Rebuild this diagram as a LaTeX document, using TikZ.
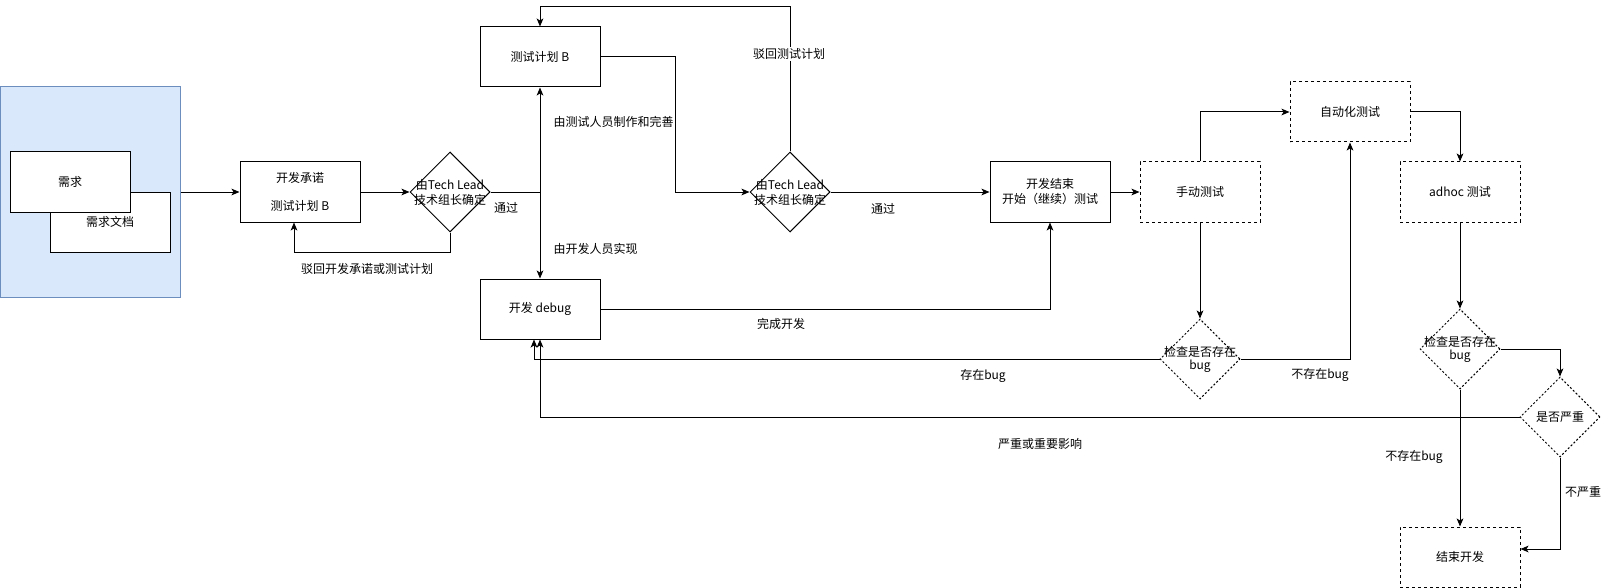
\documentclass[tikz,border=0pt]{standalone}
\usepackage{fontspec}
\setmainfont{Noto Sans CJK SC}
\usetikzlibrary{arrows.meta,shapes.geometric}

\definecolor{reqfill}{RGB}{218,232,252}
\definecolor{reqline}{RGB}{108,142,191}

\tikzset{every picture/.style={line width=0.75pt}}
\tikzset{
  txt/.style={inner sep=0.75pt,font=\fontsize{9}{11.25}\selectfont,align=center},
  procbox/.style={draw,fill=white,minimum width=90pt,minimum height=45pt,inner sep=0pt,txt},
  dashbox/.style={procbox,dash pattern=on 2.25pt off 2.25pt},
  decision/.style={draw,fill=white,diamond,aspect=1,minimum width=60pt,minimum height=60pt,inner sep=0pt},
  dashdecision/.style={decision,dash pattern=on 1.5pt off 1.5pt},
  flow/.style={-{Stealth[length=6pt,width=5pt,inset=1.5pt]}},
  edgelabel/.style={txt,fill=white}
}

\begin{document}
\begin{tikzpicture}[x=0.75pt,y=0.75pt,yscale=-1,xscale=1]
\useasboundingbox (0,0) rectangle (1616,588);

%Shape: Rectangle [requirements group]
\node [draw=reqline,fill=reqfill,minimum width=135pt,minimum height=157.5pt,inner sep=0pt] (reqgroup) at (90,192) {};
\node [procbox] (reqdoc) at (110,222) {需求文档};
\node [procbox] (req) at (70,182) {需求};

%Shapes: Rectangles
\node [procbox] (commit) at (300,192) {开发承诺\\[9.75pt]测试计划 B};
\node [procbox] (plan) at (540,57) {测试计划 B};
\node [procbox] (dev) at (540,309) {开发 debug};
\node [procbox] (devend) at (1050,192) {开发结束\\开始（继续）测试};
\node [dashbox] (manual) at (1200,192) {手动测试};
\node [dashbox] (auto) at (1350,112) {自动化测试};
\node [dashbox] (adhoc) at (1460,192) {adhoc 测试};
\node [dashbox] (finish) at (1460,557) {结束开发};

%Shapes: Diamonds
\node [decision,label={[txt]center:由Tech Lead\\技术组长确定}] (review1) at (450,192) {};
\node [decision,label={[txt]center:由Tech Lead\\技术组长确定}] (review2) at (790,192) {};
\node [dashdecision,label={[txt]center:检查是否存在\\[-1.5pt]bug}] (check1) at (1200,359) {};
\node [dashdecision,label={[txt]center:检查是否存在\\[-1.5pt]bug}] (check2) at (1460,349) {};
\node [dashdecision,label={[txt]center:是否严重}] (severe) at (1560,417) {};

\coordinate (split) at (540,192);

%Connectors
\draw [flow] (reqgroup.east) -- (commit.west);
\draw [flow] (commit.east) -- (review1.west);
\draw [flow] (review1.south) -- ++(0,20) -| ([xshift=-4.5pt]commit.south);
\draw (review1.east) -- (split);
\draw [flow] (split) -- (plan.south);
\draw [flow] (split) -- (dev.north);
\draw [flow] (plan.east) -- ++(75,0) |- (review2.west);
\draw [flow] (review2.north) -- ++(0,-145) -| (plan.north);
\draw [flow] (review2.east) -- (devend.west);
\draw [flow] (dev.east) -| (devend.south);
\draw [flow] (devend.east) -- (manual.west);
\draw [flow] (manual.north) |- (auto.west);
\draw [flow] (manual.south) -- (check1.north);
\draw [flow] (check1.west) -| ([xshift=-4.5pt]dev.south);
\draw [flow] (check1.east) -| (auto.south);
\draw [flow] (auto.east) -| (adhoc.north);
\draw [flow] (adhoc.south) -- (check2.north);
\draw [flow] (check2.east) -| (severe.north);
\draw [flow] (severe.west) -| (dev.south);
\draw [flow] (check2.south) -- (finish.north);
\draw [flow] (severe.south) |- ([yshift=-6pt]finish.east);

% Text Nodes
\node [txt] (lblreject1) at (367,269) {驳回开发承诺或测试计划};
\node [txt] (lblpass1) at (506,208) {通过};
\node [txt,anchor=west] (lbltester) at (552,122) {由测试人员制作和完善};
\node [txt,anchor=west] (lbldev) at (552,249) {由开发人员实现};
\node [edgelabel] (lblreject2) at (789,54) {驳回测试计划};
\node [txt] (lblpass2) at (883,209) {通过};
\node [txt] (lbldone) at (781,324) {完成开发};
\node [txt] (lblbug) at (983,376) {存在bug};
\node [txt] (lblnobug1) at (1320,375) {不存在bug};
\node [txt] (lblsevere) at (1040,444) {严重或重要影响};
\node [txt] (lblnobug2) at (1414,457) {不存在bug};
\node [txt] (lblminor) at (1583,492) {不严重};

\end{tikzpicture}
\end{document}
